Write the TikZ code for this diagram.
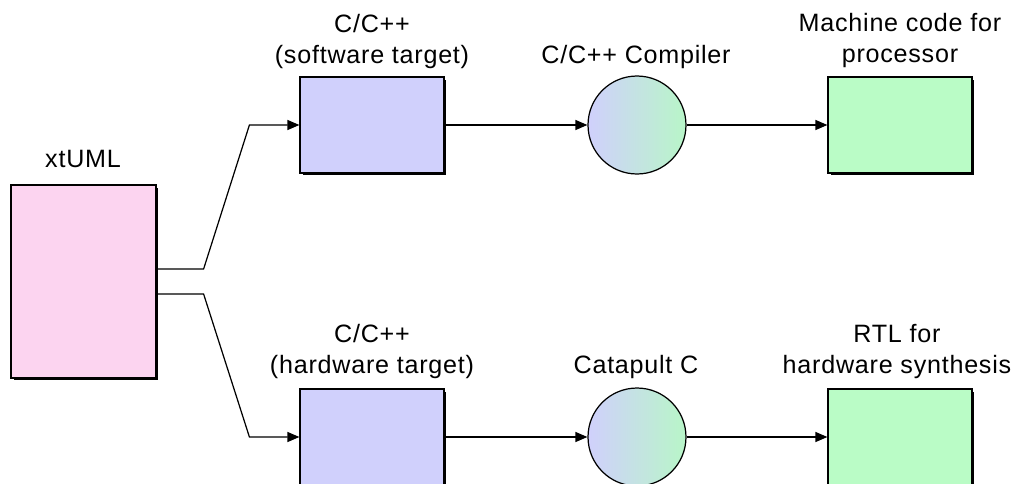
\documentclass[tikz,border=0pt]{standalone}
\usepackage{fontspec}
\setmainfont[LetterSpace=3]{Liberation Sans}
\usetikzlibrary{arrows.meta,shadows}
\definecolor{umlpink}{RGB}{252,212,240}
\definecolor{cppblue}{RGB}{208,208,252}
\definecolor{codegreen}{RGB}{186,252,198}
\definecolor{procgreen}{RGB}{184,246,200}
\begin{document}
\begin{tikzpicture}[x=0.02cm, y=-0.02cm,
		box/.style={draw, line width=0.7pt, minimum width=2.88cm, minimum height=1.92cm,
			drop shadow={shadow xshift=0.05cm, shadow yshift=-0.05cm, fill=black, opacity=1}},
		proc/.style={circle, draw, line width=0.7pt, minimum size=1.96cm, left color=cppblue, right color=procgreen},
		lbl/.style={font=\fontsize{14.3}{17.6}\selectfont, align=center, anchor=base},
		flow/.style={line width=0.7pt, -{Triangle[length=0.24cm, width=0.2cm]}}]
	\clip (0, 0) rectangle (1019, 484);
	\fill[white] (0, 0) rectangle (1019, 484);
	% boxes and processes
	\node[box, fill=umlpink, minimum width=2.9cm, minimum height=3.86cm] (xtuml) at (83.5, 281.5) {};
	\node[box, fill=cppblue] (sw) at (372, 125) {};
	\node[proc] (gcc) at (637, 125) {};
	\node[box, fill=codegreen] (mcode) at (900, 125) {};
	\node[box, fill=cppblue] (hw) at (372, 437) {};
	\node[proc] (catapult) at (637, 437) {};
	\node[box, fill=codegreen] (rtl) at (900, 437) {};
	% labels
	\node[lbl] (xtumllbl) at (83, 167) {xtUML};
	\node[lbl] (swlbl) at (372, 63) {C/C++\\(software target)};
	\node[lbl] (gcclbl) at (636, 63) {C/C++ Compiler};
	\node[lbl] (mcodelbl) at (900, 62) {Machine code for\\processor};
	\node[lbl] (hwlbl) at (372, 373) {C/C++\\(hardware target)};
	\node[lbl] (catapultlbl) at (636, 373) {Catapult C};
	\node[lbl] (rtllbl) at (897, 373) {RTL for\\hardware synthesis};
	% connectors
	\draw[flow] ([yshift=0.25cm]xtuml.east) -- ++(47, 0) -- ([xshift=-1cm]sw.west) -- (sw.west);
	\draw[flow] ([yshift=-0.25cm]xtuml.east) -- ++(47, 0) -- ([xshift=-1cm]hw.west) -- (hw.west);
	\draw[flow] (sw) -- (gcc);
	\draw[flow] (gcc) -- (mcode);
	\draw[flow] (hw) -- (catapult);
	\draw[flow] (catapult) -- (rtl);
\end{tikzpicture}
\end{document}
